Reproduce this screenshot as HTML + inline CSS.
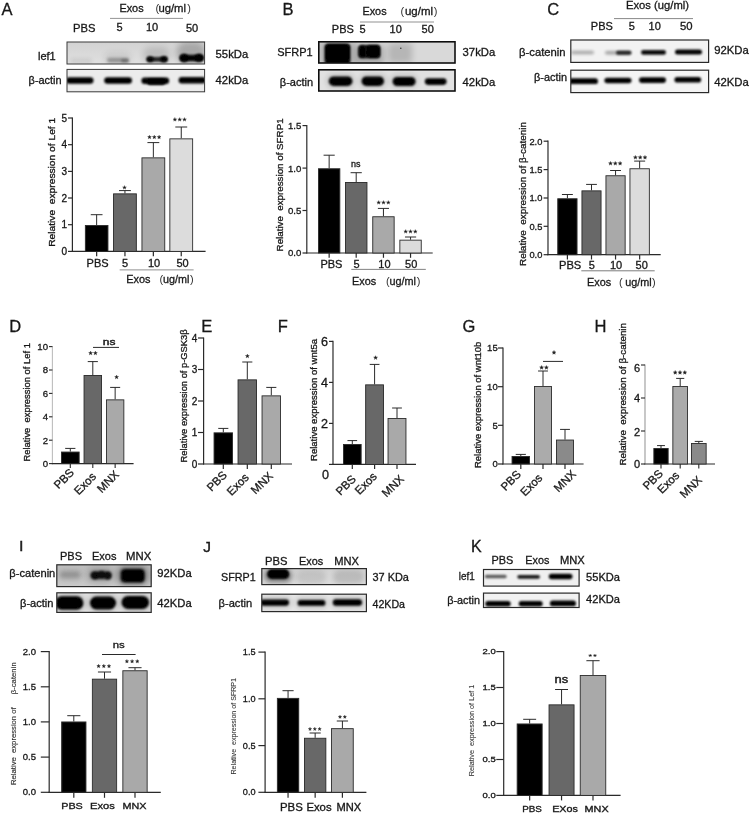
<!DOCTYPE html>
<html><head><meta charset="utf-8"><title>Figure</title>
<style>html,body{margin:0;padding:0;background:#fff;}svg{display:block;}</style>
</head><body>
<svg width="750" height="815" viewBox="0 0 750 815" font-family="'Liberation Sans', sans-serif" style="white-space:pre">
<defs>
<filter id="bl6" x="-30%" y="-80%" width="160%" height="260%"><feGaussianBlur stdDeviation="0.6"/></filter>
<filter id="bl8" x="-30%" y="-80%" width="160%" height="260%"><feGaussianBlur stdDeviation="0.8"/></filter>
<filter id="bl9" x="-30%" y="-80%" width="160%" height="260%"><feGaussianBlur stdDeviation="0.9"/></filter>
<filter id="bl10" x="-30%" y="-80%" width="160%" height="260%"><feGaussianBlur stdDeviation="1.0"/></filter>
<filter id="bl11" x="-30%" y="-80%" width="160%" height="260%"><feGaussianBlur stdDeviation="1.1"/></filter>
<filter id="bl12" x="-30%" y="-80%" width="160%" height="260%"><feGaussianBlur stdDeviation="1.2"/></filter>
<filter id="bl13" x="-30%" y="-80%" width="160%" height="260%"><feGaussianBlur stdDeviation="1.3"/></filter>
<filter id="bl14" x="-30%" y="-80%" width="160%" height="260%"><feGaussianBlur stdDeviation="1.4"/></filter>
<filter id="bl15" x="-30%" y="-80%" width="160%" height="260%"><feGaussianBlur stdDeviation="1.5"/></filter>
<filter id="bl16" x="-30%" y="-80%" width="160%" height="260%"><feGaussianBlur stdDeviation="1.6"/></filter>
<filter id="bl18" x="-30%" y="-80%" width="160%" height="260%"><feGaussianBlur stdDeviation="1.8"/></filter>
<filter id="bl20" x="-30%" y="-80%" width="160%" height="260%"><feGaussianBlur stdDeviation="2.0"/></filter>
<filter id="bl25" x="-30%" y="-80%" width="160%" height="260%"><feGaussianBlur stdDeviation="2.5"/></filter>
<filter id="bl30" x="-30%" y="-80%" width="160%" height="260%"><feGaussianBlur stdDeviation="3.0"/></filter>
<filter id="bl40" x="-30%" y="-80%" width="160%" height="260%"><feGaussianBlur stdDeviation="4.0"/></filter>
<filter id="soft" x="-5%" y="-5%" width="110%" height="110%"><feGaussianBlur stdDeviation="0.35"/></filter>
</defs>
<rect width="750" height="815" fill="#ffffff"/>
<g filter="url(#soft)">
<text x="1.6" y="14.7" font-size="16.5" fill="#161616" stroke="#161616" stroke-width="0.3">A</text>
<text x="282.4" y="14.6" font-size="16.5" fill="#161616" stroke="#161616" stroke-width="0.3">B</text>
<text x="547.3" y="15.4" font-size="16.5" fill="#161616" stroke="#161616" stroke-width="0.3">C</text>
<text x="9.2" y="332.4" font-size="16.5" fill="#161616" stroke="#161616" stroke-width="0.3">D</text>
<text x="201.2" y="331.6" font-size="16.5" fill="#161616" stroke="#161616" stroke-width="0.3">E</text>
<text x="277.8" y="331.6" font-size="16.5" fill="#161616" stroke="#161616" stroke-width="0.3">F</text>
<text x="462.6" y="331.6" font-size="16.5" fill="#161616" stroke="#161616" stroke-width="0.3">G</text>
<text x="594.6" y="331.6" font-size="16.5" fill="#161616" stroke="#161616" stroke-width="0.3">H</text>
<text x="19.2" y="551.4" font-size="14.5" fill="#161616" stroke="#161616" stroke-width="0.5">I</text>
<text x="203.2" y="552" font-size="15.5" fill="#161616" stroke="#161616" stroke-width="0.35">J</text>
<text x="471" y="551.8" font-size="16" fill="#161616" stroke="#161616" stroke-width="0.3">K</text>
<text x="119.4" y="12.4" font-size="11" textLength="24.2" lengthAdjust="spacingAndGlyphs" fill="#161616" stroke="#161616" stroke-width="0.3">Exos</text>
<text x="155.5" y="12.4" font-size="11" fill="#333" stroke="#333" stroke-width="0">(</text>
<text x="158.4" y="12.4" font-size="11" textLength="27.6" lengthAdjust="spacingAndGlyphs" fill="#161616" stroke="#161616" stroke-width="0.3">ug/ml</text>
<text x="191" y="12.4" font-size="11" text-anchor="end" fill="#333" stroke="#333" stroke-width="0">)</text>
<line x1="110" y1="18.4" x2="183" y2="18.4" stroke="#666" stroke-width="0.7"/>
<text x="73" y="32.3" font-size="11.2" fill="#161616" stroke="#161616" stroke-width="0.3">PBS</text>
<text x="116.6" y="31" font-size="11" fill="#161616" stroke="#161616" stroke-width="0.3">5</text>
<text x="146" y="31" font-size="11" fill="#161616" stroke="#161616" stroke-width="0.3">10</text>
<text x="186" y="32" font-size="11" fill="#161616" stroke="#161616" stroke-width="0.3">50</text>
<clipPath id="ca1"><rect x="67" y="42" width="137.6" height="22"/></clipPath>
<linearGradient id="ga1" x1="0" y1="0" x2="0" y2="1"><stop offset="0" stop-color="#d2d2d2"/><stop offset="1" stop-color="#e0e0e0"/></linearGradient>
<rect x="67.00" y="42.00" width="137.60" height="22.00" fill="url(#ga1)"/>
<g clip-path="url(#ca1)">
<rect x="70.0" y="59.0" width="22.0" height="4.0" rx="2.0" fill="#000" opacity="0.1" filter="url(#bl20)"/>
<rect x="104.0" y="52.0" width="27.0" height="12.0" rx="6.0" fill="#000" opacity="0.07" filter="url(#bl30)"/>
<rect x="107.0" y="58.0" width="22.0" height="4.5" rx="2.2" fill="#000" opacity="0.3" filter="url(#bl18)"/>
<rect x="121.0" y="58.8" width="8.0" height="4.0" rx="2.0" fill="#000" opacity="0.25" filter="url(#bl12)"/>
<rect x="143.0" y="47.0" width="27.0" height="16.0" rx="8.0" fill="#000" opacity="0.13" filter="url(#bl30)"/>
<rect x="147.0" y="57.0" width="20.0" height="4.8" rx="2.4" fill="#000" opacity="0.8" filter="url(#bl12)"/>
<ellipse cx="150.0" cy="59.2" rx="3.6" ry="3.0" fill="#000" opacity="0.9" filter="url(#bl10)"/>
<ellipse cx="164.0" cy="59.2" rx="3.8" ry="3.2" fill="#000" opacity="0.95" filter="url(#bl10)"/>
<rect x="176.0" y="42.0" width="30.0" height="22.0" rx="11.0" fill="#000" opacity="0.22" filter="url(#bl30)"/>
<rect x="180.0" y="54.8" width="23.5" height="6.4" rx="3.2" fill="#000" opacity="0.97" filter="url(#bl11)"/>
<ellipse cx="184.0" cy="58.0" rx="4.6" ry="4.2" fill="#000" opacity="0.95" filter="url(#bl12)"/>
<ellipse cx="199.0" cy="57.8" rx="4.8" ry="4.0" fill="#000" opacity="0.95" filter="url(#bl12)"/>
</g>
<rect x="67.00" y="42.00" width="137.60" height="22.00" fill="none" stroke="#3a3a3a" stroke-width="1.0"/>
<clipPath id="ca2"><rect x="67" y="69.4" width="137.6" height="22.4"/></clipPath>
<rect x="67.00" y="69.40" width="137.60" height="22.40" fill="#ececec"/>
<g clip-path="url(#ca2)">
<rect x="66.0" y="77.2" width="27.5" height="6.6" rx="3.3" fill="#000" opacity="1" filter="url(#bl10)"/>
<rect x="104.2" y="77.2" width="27.8" height="6.6" rx="3.3" fill="#000" opacity="1" filter="url(#bl10)"/>
<rect x="141.4" y="77.5" width="27.8" height="6.4" rx="3.2" fill="#000" opacity="1" filter="url(#bl10)"/>
<rect x="147.0" y="78.7" width="18.5" height="6.2" rx="3.1" fill="#000" opacity="1" filter="url(#bl13)"/>
<rect x="178.6" y="77.1" width="27.4" height="6.4" rx="3.2" fill="#000" opacity="1" filter="url(#bl10)"/>
</g>
<rect x="67.00" y="69.40" width="137.60" height="22.40" fill="none" stroke="#3a3a3a" stroke-width="1.0"/>
<text x="38" y="60" font-size="11" fill="#161616" stroke="#161616" stroke-width="0.3">lef1</text>
<text x="28.6" y="84" font-size="11" textLength="33" lengthAdjust="spacingAndGlyphs" fill="#161616" stroke="#161616" stroke-width="0.3">β-actin</text>
<text x="215.6" y="58" font-size="11" textLength="32.6" lengthAdjust="spacingAndGlyphs" fill="#161616" stroke="#161616" stroke-width="0.3">55kDa</text>
<text x="215.6" y="84" font-size="11" textLength="32.6" lengthAdjust="spacingAndGlyphs" fill="#161616" stroke="#161616" stroke-width="0.3">42kDa</text>
<line x1="96.65" y1="225" x2="96.65" y2="214.7" stroke="#2a2a2a" stroke-width="1.0"/>
<line x1="90.775" y1="214.7" x2="102.525" y2="214.7" stroke="#2a2a2a" stroke-width="1.0"/>
<line x1="96.65" y1="251.4" x2="96.65" y2="256.2" stroke="#2a2a2a" stroke-width="1.2"/>
<line x1="124.95" y1="193.4" x2="124.95" y2="190.6" stroke="#2a2a2a" stroke-width="1.0"/>
<line x1="119.025" y1="190.6" x2="130.875" y2="190.6" stroke="#2a2a2a" stroke-width="1.0"/>
<line x1="124.95" y1="251.4" x2="124.95" y2="256.2" stroke="#2a2a2a" stroke-width="1.2"/>
<line x1="153.35" y1="157.4" x2="153.35" y2="142.6" stroke="#2a2a2a" stroke-width="1.0"/>
<line x1="147.425" y1="142.6" x2="159.27499999999998" y2="142.6" stroke="#2a2a2a" stroke-width="1.0"/>
<line x1="153.35" y1="251.4" x2="153.35" y2="256.2" stroke="#2a2a2a" stroke-width="1.2"/>
<line x1="181.25" y1="138.4" x2="181.25" y2="127" stroke="#2a2a2a" stroke-width="1.0"/>
<line x1="175.325" y1="127" x2="187.175" y2="127" stroke="#2a2a2a" stroke-width="1.0"/>
<line x1="181.25" y1="251.4" x2="181.25" y2="256.2" stroke="#2a2a2a" stroke-width="1.2"/>
<line x1="72.4" y1="117.4" x2="72.4" y2="252.0" stroke="#2a2a2a" stroke-width="1.2"/>
<line x1="71.80000000000001" y1="251.4" x2="205.6" y2="251.4" stroke="#2a2a2a" stroke-width="1.2"/>
<rect x="85.35" y="225.45" width="22.60" height="25.95" fill="#050505" stroke="#2b2b2b" stroke-width="0.9"/>
<rect x="113.55" y="193.85" width="22.80" height="57.55" fill="#686868" stroke="#2b2b2b" stroke-width="0.9"/>
<rect x="141.95" y="157.85" width="22.80" height="93.55" fill="#a9a9a9" stroke="#2b2b2b" stroke-width="0.9"/>
<rect x="169.85" y="138.85" width="22.80" height="112.55" fill="#dcdcdc" stroke="#2b2b2b" stroke-width="0.9"/>
<line x1="68.0" y1="251.4" x2="72.4" y2="251.4" stroke="#2a2a2a" stroke-width="1.2"/>
<text x="67.0" y="254.9" font-size="10" text-anchor="end" fill="#161616" stroke="#161616" stroke-width="0.3">0</text>
<line x1="68.0" y1="224.7" x2="72.4" y2="224.7" stroke="#2a2a2a" stroke-width="1.2"/>
<text x="67.0" y="228.2" font-size="10" text-anchor="end" fill="#161616" stroke="#161616" stroke-width="0.3">1</text>
<line x1="68.0" y1="198" x2="72.4" y2="198" stroke="#2a2a2a" stroke-width="1.2"/>
<text x="67.0" y="201.5" font-size="10" text-anchor="end" fill="#161616" stroke="#161616" stroke-width="0.3">2</text>
<line x1="68.0" y1="171.4" x2="72.4" y2="171.4" stroke="#2a2a2a" stroke-width="1.2"/>
<text x="67.0" y="174.9" font-size="10" text-anchor="end" fill="#161616" stroke="#161616" stroke-width="0.3">3</text>
<line x1="68.0" y1="144.7" x2="72.4" y2="144.7" stroke="#2a2a2a" stroke-width="1.2"/>
<text x="67.0" y="148.2" font-size="10" text-anchor="end" fill="#161616" stroke="#161616" stroke-width="0.3">4</text>
<line x1="68.0" y1="118" x2="72.4" y2="118" stroke="#2a2a2a" stroke-width="1.2"/>
<text x="67.0" y="121.5" font-size="10" text-anchor="end" fill="#161616" stroke="#161616" stroke-width="0.3">5</text>
<polygon points="124.50,185.61 124.98,186.89 126.35,186.95 125.28,187.80 125.64,189.12 124.50,188.37 123.36,189.12 123.72,187.80 122.65,186.95 124.02,186.89" fill="#1e1e1e" stroke="#1e1e1e" stroke-width="0.35" stroke-linejoin="round"/>
<polygon points="149.50,135.21 149.98,136.49 151.35,136.55 150.28,137.40 150.64,138.72 149.50,137.97 148.36,138.72 148.72,137.40 147.65,136.55 149.02,136.49" fill="#1e1e1e" stroke="#1e1e1e" stroke-width="0.35" stroke-linejoin="round"/>
<polygon points="154.30,135.21 154.78,136.49 156.15,136.55 155.08,137.40 155.44,138.72 154.30,137.97 153.16,138.72 153.52,137.40 152.45,136.55 153.82,136.49" fill="#1e1e1e" stroke="#1e1e1e" stroke-width="0.35" stroke-linejoin="round"/>
<polygon points="159.10,135.21 159.58,136.49 160.95,136.55 159.88,137.40 160.24,138.72 159.10,137.97 157.96,138.72 158.32,137.40 157.25,136.55 158.62,136.49" fill="#1e1e1e" stroke="#1e1e1e" stroke-width="0.35" stroke-linejoin="round"/>
<polygon points="174.90,117.61 175.38,118.89 176.75,118.95 175.68,119.80 176.04,121.12 174.90,120.37 173.76,121.12 174.12,119.80 173.05,118.95 174.42,118.89" fill="#1e1e1e" stroke="#1e1e1e" stroke-width="0.35" stroke-linejoin="round"/>
<polygon points="179.70,117.61 180.18,118.89 181.55,118.95 180.48,119.80 180.84,121.12 179.70,120.37 178.56,121.12 178.92,119.80 177.85,118.95 179.22,118.89" fill="#1e1e1e" stroke="#1e1e1e" stroke-width="0.35" stroke-linejoin="round"/>
<polygon points="184.50,117.61 184.98,118.89 186.35,118.95 185.28,119.80 185.64,121.12 184.50,120.37 183.36,121.12 183.72,119.80 182.65,118.95 184.02,118.89" fill="#1e1e1e" stroke="#1e1e1e" stroke-width="0.35" stroke-linejoin="round"/>
<text x="55.4" y="246.8" font-size="9.4" transform="rotate(-90 55.4 246.8)" textLength="129" lengthAdjust="spacingAndGlyphs" fill="#161616" stroke="#161616" stroke-width="0.3">Relative  expression of Lef 1</text>
<text x="86.6" y="267" font-size="11" textLength="22" lengthAdjust="spacingAndGlyphs" fill="#161616" stroke="#161616" stroke-width="0.3">PBS</text>
<text x="125" y="267" font-size="11" text-anchor="middle" fill="#161616" stroke="#161616" stroke-width="0.3">5</text>
<text x="154" y="267" font-size="11" text-anchor="middle" fill="#161616" stroke="#161616" stroke-width="0.3">10</text>
<text x="182.6" y="267" font-size="11" text-anchor="middle" fill="#161616" stroke="#161616" stroke-width="0.3">50</text>
<line x1="119.7" y1="269.9" x2="193.6" y2="269.9" stroke="#444" stroke-width="0.6"/>
<text x="126.2" y="282.6" font-size="11" textLength="24.2" lengthAdjust="spacingAndGlyphs" fill="#161616" stroke="#161616" stroke-width="0.3">Exos</text>
<text x="159.5" y="282.6" font-size="11" fill="#333" stroke="#333" stroke-width="0">(</text>
<text x="162.9" y="282.6" font-size="11" textLength="26.4" lengthAdjust="spacingAndGlyphs" fill="#161616" stroke="#161616" stroke-width="0.3">ug/ml</text>
<text x="193.6" y="282.6" font-size="11" text-anchor="end" fill="#333" stroke="#333" stroke-width="0">)</text>
<text x="362.4" y="15.4" font-size="11" textLength="24.2" lengthAdjust="spacingAndGlyphs" fill="#161616" stroke="#161616" stroke-width="0.3">Exos</text>
<text x="400.5" y="15.4" font-size="11" fill="#333" stroke="#333" stroke-width="0">(</text>
<text x="405" y="15.4" font-size="11" textLength="28" lengthAdjust="spacingAndGlyphs" fill="#161616" stroke="#161616" stroke-width="0.3">ug/ml</text>
<text x="437.4" y="15.4" font-size="11" text-anchor="end" fill="#333" stroke="#333" stroke-width="0">)</text>
<line x1="360" y1="22" x2="434" y2="22" stroke="#666" stroke-width="0.7"/>
<text x="331.8" y="33" font-size="11" textLength="22" lengthAdjust="spacingAndGlyphs" fill="#161616" stroke="#161616" stroke-width="0.3">PBS</text>
<text x="359.6" y="33" font-size="11" fill="#161616" stroke="#161616" stroke-width="0.3">5</text>
<text x="389.6" y="33" font-size="11" fill="#161616" stroke="#161616" stroke-width="0.3">10</text>
<text x="421.6" y="33" font-size="11" fill="#161616" stroke="#161616" stroke-width="0.3">50</text>
<clipPath id="cb1"><rect x="318.8" y="41.8" width="136.2" height="21.2"/></clipPath>
<rect x="318.80" y="41.80" width="136.20" height="21.20" fill="#d9d9d9"/>
<g clip-path="url(#cb1)">
<rect x="319.0" y="41.0" width="37.0" height="24.0" rx="3.0" fill="#000" opacity="0.18" filter="url(#bl30)"/>
<rect x="324.6" y="43.8" width="25.8" height="20.5" rx="3.5" fill="#000" opacity="1" filter="url(#bl10)"/>
<rect x="326.0" y="44.5" width="23.0" height="15.0" rx="3.0" fill="#000" opacity="1" filter="url(#bl8)"/>
<rect x="355.0" y="45.0" width="29.0" height="20.0" rx="3.0" fill="#000" opacity="0.22" filter="url(#bl30)"/>
<rect x="358.4" y="44.9" width="21.8" height="13.4" rx="3.5" fill="#000" opacity="0.92" filter="url(#bl11)"/>
<rect x="367.0" y="45.2" width="13.0" height="12.4" rx="3.0" fill="#000" opacity="0.95" filter="url(#bl8)"/>
<rect x="358.6" y="45.6" width="6.9" height="12.0" rx="3.0" fill="#000" opacity="0.7" filter="url(#bl8)"/>
<rect x="388.0" y="43.0" width="24.0" height="20.0" rx="3.0" fill="#000" opacity="0.16" filter="url(#bl30)"/>
<rect x="400.0" y="47.4" width="1.6" height="1.6" rx="0.8" fill="#000" opacity="0.7" filter="url(#bl6)"/>
</g>
<rect x="318.80" y="41.80" width="136.20" height="21.20" fill="none" stroke="#111" stroke-width="1.6"/>
<clipPath id="cb2"><rect x="318.8" y="69.8" width="136.2" height="21.2"/></clipPath>
<rect x="318.80" y="69.80" width="136.20" height="21.20" fill="#e1e1e1"/>
<g clip-path="url(#cb2)">
<rect x="326.0" y="73.5" width="29.0" height="15.0" rx="7.5" fill="#000" opacity="0.12" filter="url(#bl25)"/>
<rect x="359.0" y="73.5" width="28.0" height="15.0" rx="7.5" fill="#000" opacity="0.12" filter="url(#bl25)"/>
<rect x="390.0" y="73.5" width="28.0" height="15.0" rx="7.5" fill="#000" opacity="0.1" filter="url(#bl25)"/>
<rect x="328.8" y="76.4" width="23.6" height="9.6" rx="4.8" fill="#000" opacity="1" filter="url(#bl12)"/>
<rect x="361.6" y="76.4" width="22.4" height="9.6" rx="4.8" fill="#000" opacity="1" filter="url(#bl12)"/>
<rect x="392.6" y="76.9" width="23.0" height="9.2" rx="4.6" fill="#000" opacity="1" filter="url(#bl12)"/>
<rect x="424.8" y="78.3" width="21.8" height="6.6" rx="3.3" fill="#000" opacity="1" filter="url(#bl12)"/>
</g>
<rect x="318.80" y="69.80" width="136.20" height="21.20" fill="none" stroke="#111" stroke-width="1.6"/>
<text x="277.2" y="56" font-size="11" textLength="35.4" lengthAdjust="spacingAndGlyphs" fill="#161616" stroke="#161616" stroke-width="0.3">SFRP1</text>
<text x="279.8" y="86.4" font-size="11" textLength="33.4" lengthAdjust="spacingAndGlyphs" fill="#161616" stroke="#161616" stroke-width="0.3">β-actin</text>
<text x="462.6" y="56" font-size="11" textLength="32.6" lengthAdjust="spacingAndGlyphs" fill="#161616" stroke="#161616" stroke-width="0.3">37kDa</text>
<text x="462.6" y="86.4" font-size="11" textLength="32.6" lengthAdjust="spacingAndGlyphs" fill="#161616" stroke="#161616" stroke-width="0.3">42kDa</text>
<line x1="329.15" y1="168.3" x2="329.15" y2="155.2" stroke="#2a2a2a" stroke-width="1.0"/>
<line x1="323.575" y1="155.2" x2="334.72499999999997" y2="155.2" stroke="#2a2a2a" stroke-width="1.0"/>
<line x1="329.15" y1="253" x2="329.15" y2="257.8" stroke="#2a2a2a" stroke-width="1.2"/>
<line x1="356.2" y1="182" x2="356.2" y2="172.7" stroke="#2a2a2a" stroke-width="1.0"/>
<line x1="350.6" y1="172.7" x2="361.79999999999995" y2="172.7" stroke="#2a2a2a" stroke-width="1.0"/>
<line x1="356.2" y1="253" x2="356.2" y2="257.8" stroke="#2a2a2a" stroke-width="1.2"/>
<line x1="383.45000000000005" y1="216.3" x2="383.45000000000005" y2="208.4" stroke="#2a2a2a" stroke-width="1.0"/>
<line x1="377.87500000000006" y1="208.4" x2="389.02500000000003" y2="208.4" stroke="#2a2a2a" stroke-width="1.0"/>
<line x1="383.45000000000005" y1="253" x2="383.45000000000005" y2="257.8" stroke="#2a2a2a" stroke-width="1.2"/>
<line x1="410.54999999999995" y1="239.7" x2="410.54999999999995" y2="237" stroke="#2a2a2a" stroke-width="1.0"/>
<line x1="404.97499999999997" y1="237" x2="416.12499999999994" y2="237" stroke="#2a2a2a" stroke-width="1.0"/>
<line x1="410.54999999999995" y1="253" x2="410.54999999999995" y2="257.8" stroke="#2a2a2a" stroke-width="1.2"/>
<line x1="306.8" y1="125.0" x2="306.8" y2="253.6" stroke="#2a2a2a" stroke-width="1.2"/>
<line x1="306.2" y1="253" x2="432.7" y2="253" stroke="#2a2a2a" stroke-width="1.2"/>
<rect x="318.45" y="168.75" width="21.40" height="84.25" fill="#050505" stroke="#2b2b2b" stroke-width="0.9"/>
<rect x="345.45" y="182.45" width="21.50" height="70.55" fill="#686868" stroke="#2b2b2b" stroke-width="0.9"/>
<rect x="372.75" y="216.75" width="21.40" height="36.25" fill="#a9a9a9" stroke="#2b2b2b" stroke-width="0.9"/>
<rect x="399.85" y="240.15" width="21.40" height="12.85" fill="#dcdcdc" stroke="#2b2b2b" stroke-width="0.9"/>
<line x1="302.5" y1="253" x2="306.8" y2="253" stroke="#2a2a2a" stroke-width="1.2"/>
<text x="301.3" y="256.4" font-size="9.6" text-anchor="end" fill="#161616" stroke="#161616" stroke-width="0.3">0.0</text>
<line x1="302.5" y1="210.5" x2="306.8" y2="210.5" stroke="#2a2a2a" stroke-width="1.2"/>
<text x="301.3" y="213.9" font-size="9.6" text-anchor="end" fill="#161616" stroke="#161616" stroke-width="0.3">0.5</text>
<line x1="302.5" y1="168.1" x2="306.8" y2="168.1" stroke="#2a2a2a" stroke-width="1.2"/>
<text x="301.3" y="171.5" font-size="9.6" text-anchor="end" fill="#161616" stroke="#161616" stroke-width="0.3">1.0</text>
<line x1="302.5" y1="125.6" x2="306.8" y2="125.6" stroke="#2a2a2a" stroke-width="1.2"/>
<text x="301.3" y="129.0" font-size="9.6" text-anchor="end" fill="#161616" stroke="#161616" stroke-width="0.3">1.5</text>
<text x="355.8" y="166.5" font-size="9" text-anchor="middle" fill="#161616" stroke="#161616" stroke-width="0.3">ns</text>
<polygon points="378.70,200.61 379.18,201.89 380.55,201.95 379.48,202.80 379.84,204.12 378.70,203.37 377.56,204.12 377.92,202.80 376.85,201.95 378.22,201.89" fill="#1e1e1e" stroke="#1e1e1e" stroke-width="0.35" stroke-linejoin="round"/>
<polygon points="383.50,200.61 383.98,201.89 385.35,201.95 384.28,202.80 384.64,204.12 383.50,203.37 382.36,204.12 382.72,202.80 381.65,201.95 383.02,201.89" fill="#1e1e1e" stroke="#1e1e1e" stroke-width="0.35" stroke-linejoin="round"/>
<polygon points="388.30,200.61 388.78,201.89 390.15,201.95 389.08,202.80 389.44,204.12 388.30,203.37 387.16,204.12 387.52,202.80 386.45,201.95 387.82,201.89" fill="#1e1e1e" stroke="#1e1e1e" stroke-width="0.35" stroke-linejoin="round"/>
<polygon points="405.70,229.61 406.18,230.89 407.55,230.95 406.48,231.80 406.84,233.12 405.70,232.37 404.56,233.12 404.92,231.80 403.85,230.95 405.22,230.89" fill="#1e1e1e" stroke="#1e1e1e" stroke-width="0.35" stroke-linejoin="round"/>
<polygon points="410.50,229.61 410.98,230.89 412.35,230.95 411.28,231.80 411.64,233.12 410.50,232.37 409.36,233.12 409.72,231.80 408.65,230.95 410.02,230.89" fill="#1e1e1e" stroke="#1e1e1e" stroke-width="0.35" stroke-linejoin="round"/>
<polygon points="415.30,229.61 415.78,230.89 417.15,230.95 416.08,231.80 416.44,233.12 415.30,232.37 414.16,233.12 414.52,231.80 413.45,230.95 414.82,230.89" fill="#1e1e1e" stroke="#1e1e1e" stroke-width="0.35" stroke-linejoin="round"/>
<text x="283.4" y="251.4" font-size="9.5" transform="rotate(-90 283.4 251.4)" textLength="133" lengthAdjust="spacingAndGlyphs" fill="#161616" stroke="#161616" stroke-width="0.3">Relative  expression of SFRP1</text>
<text x="320.4" y="267.9" font-size="11" textLength="22" lengthAdjust="spacingAndGlyphs" fill="#161616" stroke="#161616" stroke-width="0.3">PBS</text>
<text x="356.6" y="267.9" font-size="11" text-anchor="middle" fill="#161616" stroke="#161616" stroke-width="0.3">5</text>
<text x="384.4" y="267.9" font-size="11" text-anchor="middle" fill="#161616" stroke="#161616" stroke-width="0.3">10</text>
<text x="411.2" y="267.9" font-size="11" text-anchor="middle" fill="#161616" stroke="#161616" stroke-width="0.3">50</text>
<line x1="351.3" y1="269.4" x2="425.8" y2="269.4" stroke="#333" stroke-width="0.6"/>
<text x="352" y="285" font-size="11" textLength="24.2" lengthAdjust="spacingAndGlyphs" fill="#161616" stroke="#161616" stroke-width="0.3">Exos</text>
<text x="386" y="285" font-size="11" fill="#333" stroke="#333" stroke-width="0">(</text>
<text x="389.5" y="285" font-size="11" textLength="26.5" lengthAdjust="spacingAndGlyphs" fill="#161616" stroke="#161616" stroke-width="0.3">ug/ml</text>
<text x="420.5" y="285" font-size="11" text-anchor="end" fill="#333" stroke="#333" stroke-width="0">)</text>
<text x="626" y="9.4" font-size="11.2" textLength="63" lengthAdjust="spacingAndGlyphs" fill="#161616" stroke="#161616" stroke-width="0.3">Exos (ug/ml)</text>
<line x1="614" y1="18.6" x2="693" y2="18.6" stroke="#555" stroke-width="0.7"/>
<text x="590.8" y="29.6" font-size="11" textLength="22" lengthAdjust="spacingAndGlyphs" fill="#161616" stroke="#161616" stroke-width="0.3">PBS</text>
<text x="628.8" y="29.5" font-size="11" fill="#161616" stroke="#161616" stroke-width="0.3">5</text>
<text x="648.6" y="29.5" font-size="11" fill="#161616" stroke="#161616" stroke-width="0.3">10</text>
<text x="680" y="29.5" font-size="11" textLength="12.6" lengthAdjust="spacingAndGlyphs" fill="#161616" stroke="#161616" stroke-width="0.3">50</text>
<clipPath id="cc1"><rect x="570.8" y="40" width="137.8" height="22.4"/></clipPath>
<rect x="570.80" y="40.00" width="137.80" height="22.40" fill="#f2f2f2"/>
<g clip-path="url(#cc1)">
<rect x="571.0" y="50.7" width="23.0" height="3.6" rx="1.8" fill="#000" opacity="0.3" filter="url(#bl16)"/>
<rect x="605.0" y="50.9" width="26.0" height="3.6" rx="1.8" fill="#000" opacity="0.33" filter="url(#bl16)"/>
<rect x="616.0" y="50.8" width="15.5" height="4.0" rx="2.0" fill="#000" opacity="0.8" filter="url(#bl12)"/>
<rect x="641.0" y="50.1" width="25.0" height="4.6" rx="2.3" fill="#000" opacity="0.95" filter="url(#bl10)"/>
<rect x="675.0" y="49.6" width="27.0" height="5.0" rx="2.5" fill="#000" opacity="1" filter="url(#bl10)"/>
</g>
<rect x="570.80" y="40.00" width="137.80" height="22.40" fill="none" stroke="#2a2a2a" stroke-width="1.2"/>
<clipPath id="cc2"><rect x="570.8" y="70.2" width="137.8" height="22.4"/></clipPath>
<rect x="570.80" y="70.20" width="137.80" height="22.40" fill="#f4f4f4"/>
<g clip-path="url(#cc2)">
<rect x="568.0" y="78.3" width="30.0" height="5.8" rx="2.9" fill="#000" opacity="1" filter="url(#bl10)"/>
<rect x="604.4" y="77.7" width="27.1" height="5.6" rx="2.8" fill="#000" opacity="1" filter="url(#bl10)"/>
<rect x="639.0" y="77.3" width="27.0" height="5.6" rx="2.8" fill="#000" opacity="1" filter="url(#bl10)"/>
<rect x="674.4" y="76.9" width="26.8" height="5.6" rx="2.8" fill="#000" opacity="1" filter="url(#bl10)"/>
</g>
<rect x="570.80" y="70.20" width="137.80" height="22.40" fill="none" stroke="#2a2a2a" stroke-width="1.2"/>
<text x="519" y="56" font-size="11" textLength="46.6" lengthAdjust="spacingAndGlyphs" fill="#161616" stroke="#161616" stroke-width="0.3">β-catenin</text>
<text x="534" y="81" font-size="11" textLength="33" lengthAdjust="spacingAndGlyphs" fill="#161616" stroke="#161616" stroke-width="0.3">β-actin</text>
<text x="714.2" y="53.6" font-size="11.3" textLength="34.6" lengthAdjust="spacingAndGlyphs" fill="#161616" stroke="#161616" stroke-width="0.3">92KDa</text>
<text x="714.2" y="86" font-size="11.3" textLength="34.6" lengthAdjust="spacingAndGlyphs" fill="#161616" stroke="#161616" stroke-width="0.3">42KDa</text>
<line x1="567.4" y1="198.3" x2="567.4" y2="194.5" stroke="#2a2a2a" stroke-width="1.0"/>
<line x1="561.9459999999999" y1="194.5" x2="572.854" y2="194.5" stroke="#2a2a2a" stroke-width="1.0"/>
<line x1="567.4" y1="254.7" x2="567.4" y2="259.5" stroke="#2a2a2a" stroke-width="1.2"/>
<line x1="591.5" y1="190.4" x2="591.5" y2="184.4" stroke="#2a2a2a" stroke-width="1.0"/>
<line x1="586.1" y1="184.4" x2="596.9" y2="184.4" stroke="#2a2a2a" stroke-width="1.0"/>
<line x1="591.5" y1="254.7" x2="591.5" y2="259.5" stroke="#2a2a2a" stroke-width="1.2"/>
<line x1="615.55" y1="175.3" x2="615.55" y2="170.5" stroke="#2a2a2a" stroke-width="1.0"/>
<line x1="610.1229999999999" y1="170.5" x2="620.977" y2="170.5" stroke="#2a2a2a" stroke-width="1.0"/>
<line x1="615.55" y1="254.7" x2="615.55" y2="259.5" stroke="#2a2a2a" stroke-width="1.2"/>
<line x1="639.65" y1="168.3" x2="639.65" y2="161.1" stroke="#2a2a2a" stroke-width="1.0"/>
<line x1="634.169" y1="161.1" x2="645.131" y2="161.1" stroke="#2a2a2a" stroke-width="1.0"/>
<line x1="639.65" y1="254.7" x2="639.65" y2="259.5" stroke="#2a2a2a" stroke-width="1.2"/>
<line x1="548" y1="140.6" x2="548" y2="255.29999999999998" stroke="#2a2a2a" stroke-width="1.2"/>
<line x1="547.4" y1="254.7" x2="660.7" y2="254.7" stroke="#2a2a2a" stroke-width="1.2"/>
<rect x="557.75" y="198.75" width="19.30" height="55.95" fill="#050505" stroke="#2b2b2b" stroke-width="0.9"/>
<rect x="581.95" y="190.85" width="19.10" height="63.85" fill="#686868" stroke="#2b2b2b" stroke-width="0.9"/>
<rect x="605.95" y="175.75" width="19.20" height="78.95" fill="#a9a9a9" stroke="#2b2b2b" stroke-width="0.9"/>
<rect x="629.95" y="168.75" width="19.40" height="85.95" fill="#dcdcdc" stroke="#2b2b2b" stroke-width="0.9"/>
<line x1="543.6" y1="254.7" x2="548" y2="254.7" stroke="#2a2a2a" stroke-width="1.2"/>
<text x="542.4" y="258.0" font-size="9.3" text-anchor="end" fill="#161616" stroke="#161616" stroke-width="0.3">0.0</text>
<line x1="543.6" y1="226.3" x2="548" y2="226.3" stroke="#2a2a2a" stroke-width="1.2"/>
<text x="542.4" y="229.6" font-size="9.3" text-anchor="end" fill="#161616" stroke="#161616" stroke-width="0.3">0.5</text>
<line x1="543.6" y1="198" x2="548" y2="198" stroke="#2a2a2a" stroke-width="1.2"/>
<text x="542.4" y="201.3" font-size="9.3" text-anchor="end" fill="#161616" stroke="#161616" stroke-width="0.3">1.0</text>
<line x1="543.6" y1="169.6" x2="548" y2="169.6" stroke="#2a2a2a" stroke-width="1.2"/>
<text x="542.4" y="172.9" font-size="9.3" text-anchor="end" fill="#161616" stroke="#161616" stroke-width="0.3">1.5</text>
<line x1="543.6" y1="141.2" x2="548" y2="141.2" stroke="#2a2a2a" stroke-width="1.2"/>
<text x="542.4" y="144.5" font-size="9.3" text-anchor="end" fill="#161616" stroke="#161616" stroke-width="0.3">2.0</text>
<polygon points="610.50,161.42 611.00,162.76 612.44,162.82 611.31,163.71 611.70,165.10 610.50,164.30 609.30,165.10 609.69,163.71 608.56,162.82 610.00,162.76" fill="#1e1e1e" stroke="#1e1e1e" stroke-width="0.35" stroke-linejoin="round"/>
<polygon points="615.30,161.42 615.80,162.76 617.24,162.82 616.11,163.71 616.50,165.10 615.30,164.30 614.10,165.10 614.49,163.71 613.36,162.82 614.80,162.76" fill="#1e1e1e" stroke="#1e1e1e" stroke-width="0.35" stroke-linejoin="round"/>
<polygon points="620.10,161.42 620.60,162.76 622.04,162.82 620.91,163.71 621.30,165.10 620.10,164.30 618.90,165.10 619.29,163.71 618.16,162.82 619.60,162.76" fill="#1e1e1e" stroke="#1e1e1e" stroke-width="0.35" stroke-linejoin="round"/>
<polygon points="635.40,155.42 635.90,156.76 637.34,156.82 636.21,157.71 636.60,159.10 635.40,158.30 634.20,159.10 634.59,157.71 633.46,156.82 634.90,156.76" fill="#1e1e1e" stroke="#1e1e1e" stroke-width="0.35" stroke-linejoin="round"/>
<polygon points="640.20,155.42 640.70,156.76 642.14,156.82 641.01,157.71 641.40,159.10 640.20,158.30 639.00,159.10 639.39,157.71 638.26,156.82 639.70,156.76" fill="#1e1e1e" stroke="#1e1e1e" stroke-width="0.35" stroke-linejoin="round"/>
<polygon points="645.00,155.42 645.50,156.76 646.94,156.82 645.81,157.71 646.20,159.10 645.00,158.30 643.80,159.10 644.19,157.71 643.06,156.82 644.50,156.76" fill="#1e1e1e" stroke="#1e1e1e" stroke-width="0.35" stroke-linejoin="round"/>
<text x="525.6" y="266" font-size="9.3" transform="rotate(-90 525.6 266)" textLength="144" lengthAdjust="spacingAndGlyphs" fill="#161616" stroke="#161616" stroke-width="0.3">Relative  expression of β-catenin</text>
<text x="559" y="269.1" font-size="11" textLength="22.3" lengthAdjust="spacingAndGlyphs" fill="#161616" stroke="#161616" stroke-width="0.3">PBS</text>
<text x="591.8" y="269.1" font-size="11" text-anchor="middle" fill="#161616" stroke="#161616" stroke-width="0.3">5</text>
<text x="616" y="269.1" font-size="11" text-anchor="middle" fill="#161616" stroke="#161616" stroke-width="0.3">10</text>
<text x="641.7" y="269.1" font-size="11" text-anchor="middle" fill="#161616" stroke="#161616" stroke-width="0.3">50</text>
<line x1="581.3" y1="270.8" x2="654.7" y2="270.8" stroke="#444" stroke-width="0.7"/>
<text x="587.1" y="285.9" font-size="11" textLength="24.2" lengthAdjust="spacingAndGlyphs" fill="#161616" stroke="#161616" stroke-width="0.3">Exos</text>
<text x="619" y="285.9" font-size="11" fill="#333" stroke="#333" stroke-width="0">(</text>
<text x="625.2" y="285.9" font-size="11" textLength="26.4" lengthAdjust="spacingAndGlyphs" fill="#161616" stroke="#161616" stroke-width="0.3">ug/ml</text>
<text x="655.7" y="285.9" font-size="11" text-anchor="end" fill="#333" stroke="#333" stroke-width="0">)</text>
<line x1="70.3" y1="451.6" x2="70.3" y2="448.4" stroke="#2a2a2a" stroke-width="1.0"/>
<line x1="65.185" y1="448.4" x2="75.41499999999999" y2="448.4" stroke="#2a2a2a" stroke-width="1.0"/>
<line x1="70.3" y1="463.6" x2="70.3" y2="468.0" stroke="#2a2a2a" stroke-width="1.1"/>
<line x1="92.8" y1="375" x2="92.8" y2="361.6" stroke="#2a2a2a" stroke-width="1.0"/>
<line x1="87.74" y1="361.6" x2="97.86" y2="361.6" stroke="#2a2a2a" stroke-width="1.0"/>
<line x1="92.8" y1="463.6" x2="92.8" y2="468.0" stroke="#2a2a2a" stroke-width="1.1"/>
<line x1="115.15" y1="399.4" x2="115.15" y2="387.4" stroke="#2a2a2a" stroke-width="1.0"/>
<line x1="110.1175" y1="387.4" x2="120.1825" y2="387.4" stroke="#2a2a2a" stroke-width="1.0"/>
<line x1="115.15" y1="463.6" x2="115.15" y2="468.0" stroke="#2a2a2a" stroke-width="1.1"/>
<line x1="52.4" y1="346.05" x2="52.4" y2="464.15000000000003" stroke="#bdbdbd" stroke-width="1.1"/>
<line x1="51.85" y1="463.6" x2="133.6" y2="463.6" stroke="#2a2a2a" stroke-width="1.1"/>
<rect x="61.45" y="452.05" width="17.70" height="11.55" fill="#050505" stroke="#2b2b2b" stroke-width="0.9"/>
<rect x="84.05" y="375.45" width="17.50" height="88.15" fill="#686868" stroke="#2b2b2b" stroke-width="0.9"/>
<rect x="106.45" y="399.85" width="17.40" height="63.75" fill="#a9a9a9" stroke="#2b2b2b" stroke-width="0.9"/>
<line x1="49.0" y1="463.6" x2="52.4" y2="463.6" stroke="#2a2a2a" stroke-width="1.1"/>
<text x="48.0" y="467.0" font-size="9.6" text-anchor="end" fill="#161616" stroke="#161616" stroke-width="0.3">0</text>
<line x1="49.0" y1="440.2" x2="52.4" y2="440.2" stroke="#2a2a2a" stroke-width="1.1"/>
<text x="48.0" y="443.6" font-size="9.6" text-anchor="end" fill="#161616" stroke="#161616" stroke-width="0.3">2</text>
<line x1="49.0" y1="416.8" x2="52.4" y2="416.8" stroke="#2a2a2a" stroke-width="1.1"/>
<text x="48.0" y="420.2" font-size="9.6" text-anchor="end" fill="#161616" stroke="#161616" stroke-width="0.3">4</text>
<line x1="49.0" y1="393.4" x2="52.4" y2="393.4" stroke="#2a2a2a" stroke-width="1.1"/>
<text x="48.0" y="396.8" font-size="9.6" text-anchor="end" fill="#161616" stroke="#161616" stroke-width="0.3">6</text>
<line x1="49.0" y1="370" x2="52.4" y2="370" stroke="#2a2a2a" stroke-width="1.1"/>
<text x="48.0" y="373.4" font-size="9.6" text-anchor="end" fill="#161616" stroke="#161616" stroke-width="0.3">8</text>
<line x1="49.0" y1="346.6" x2="52.4" y2="346.6" stroke="#2a2a2a" stroke-width="1.1"/>
<text x="48.0" y="350.0" font-size="9.6" text-anchor="end" fill="#161616" stroke="#161616" stroke-width="0.3">10</text>
<polygon points="90.60,351.11 91.10,352.46 92.54,352.52 91.41,353.41 91.80,354.80 90.60,354.00 89.40,354.80 89.79,353.41 88.66,352.52 90.10,352.46" fill="#1e1e1e" stroke="#1e1e1e" stroke-width="0.35" stroke-linejoin="round"/>
<polygon points="95.40,351.11 95.90,352.46 97.34,352.52 96.21,353.41 96.60,354.80 95.40,354.00 94.20,354.80 94.59,353.41 93.46,352.52 94.90,352.46" fill="#1e1e1e" stroke="#1e1e1e" stroke-width="0.35" stroke-linejoin="round"/>
<polygon points="116.60,375.11 117.10,376.46 118.54,376.52 117.41,377.41 117.80,378.80 116.60,378.00 115.40,378.80 115.79,377.41 114.66,376.52 116.10,376.46" fill="#1e1e1e" stroke="#1e1e1e" stroke-width="0.35" stroke-linejoin="round"/>
<text x="109.1" y="345" font-size="9.6" text-anchor="middle" textLength="12.6" lengthAdjust="spacingAndGlyphs" fill="#161616" stroke="#161616" stroke-width="0.4">ns</text>
<line x1="93" y1="347.4" x2="119" y2="347.4" stroke="#2a2a2a" stroke-width="1.0"/>
<text x="30.4" y="461.6" font-size="8.8" transform="rotate(-90 30.4 461.6)" textLength="118.6" lengthAdjust="spacingAndGlyphs" fill="#161616" stroke="#161616" stroke-width="0.3">Relative  expression of Lef 1</text>
<text x="74.8" y="473.3" font-size="11.5" text-anchor="end" transform="rotate(-45 74.8 473.3)" fill="#161616" stroke="#161616" stroke-width="0.3">PBS</text>
<text x="96.8" y="477.3" font-size="11.5" text-anchor="end" transform="rotate(-45 96.8 477.3)" fill="#161616" stroke="#161616" stroke-width="0.3">Exos</text>
<text x="119.8" y="475.3" font-size="11.5" text-anchor="end" transform="rotate(-45 119.8 475.3)" fill="#161616" stroke="#161616" stroke-width="0.3">MNX</text>
<line x1="223.3" y1="432.4" x2="223.3" y2="428.4" stroke="#2a2a2a" stroke-width="1.0"/>
<line x1="218.256" y1="428.4" x2="228.34400000000002" y2="428.4" stroke="#2a2a2a" stroke-width="1.0"/>
<line x1="223.3" y1="464" x2="223.3" y2="469" stroke="#2a2a2a" stroke-width="1.2"/>
<line x1="247.3" y1="379.4" x2="247.3" y2="362" stroke="#2a2a2a" stroke-width="1.0"/>
<line x1="242.256" y1="362" x2="252.34400000000002" y2="362" stroke="#2a2a2a" stroke-width="1.0"/>
<line x1="247.3" y1="464" x2="247.3" y2="469" stroke="#2a2a2a" stroke-width="1.2"/>
<line x1="271.3" y1="395.4" x2="271.3" y2="387.4" stroke="#2a2a2a" stroke-width="1.0"/>
<line x1="266.25600000000003" y1="387.4" x2="276.344" y2="387.4" stroke="#2a2a2a" stroke-width="1.0"/>
<line x1="271.3" y1="464" x2="271.3" y2="469" stroke="#2a2a2a" stroke-width="1.2"/>
<line x1="203.6" y1="337.4" x2="203.6" y2="464.6" stroke="#2a2a2a" stroke-width="1.2"/>
<line x1="203.0" y1="464" x2="292" y2="464" stroke="#2a2a2a" stroke-width="1.2"/>
<rect x="214.05" y="432.85" width="18.50" height="31.15" fill="#050505" stroke="#2b2b2b" stroke-width="0.9"/>
<rect x="238.05" y="379.85" width="18.50" height="84.15" fill="#686868" stroke="#2b2b2b" stroke-width="0.9"/>
<rect x="262.05" y="395.85" width="18.50" height="68.15" fill="#a9a9a9" stroke="#2b2b2b" stroke-width="0.9"/>
<line x1="198.0" y1="464" x2="203.6" y2="464" stroke="#2a2a2a" stroke-width="1.2"/>
<text x="197.2" y="467.6" font-size="10" text-anchor="end" fill="#161616" stroke="#161616" stroke-width="0.3">0</text>
<line x1="198.0" y1="432.5" x2="203.6" y2="432.5" stroke="#2a2a2a" stroke-width="1.2"/>
<text x="197.2" y="436.1" font-size="10" text-anchor="end" fill="#161616" stroke="#161616" stroke-width="0.3">1</text>
<line x1="198.0" y1="401" x2="203.6" y2="401" stroke="#2a2a2a" stroke-width="1.2"/>
<text x="197.2" y="404.6" font-size="10" text-anchor="end" fill="#161616" stroke="#161616" stroke-width="0.3">2</text>
<line x1="198.0" y1="369.5" x2="203.6" y2="369.5" stroke="#2a2a2a" stroke-width="1.2"/>
<text x="197.2" y="373.1" font-size="10" text-anchor="end" fill="#161616" stroke="#161616" stroke-width="0.3">3</text>
<line x1="198.0" y1="338" x2="203.6" y2="338" stroke="#2a2a2a" stroke-width="1.2"/>
<text x="197.2" y="341.6" font-size="10" text-anchor="end" fill="#161616" stroke="#161616" stroke-width="0.3">4</text>
<polygon points="247.40,354.11 247.90,355.46 249.34,355.52 248.21,356.41 248.60,357.80 247.40,357.00 246.20,357.80 246.59,356.41 245.46,355.52 246.90,355.46" fill="#1e1e1e" stroke="#1e1e1e" stroke-width="0.35" stroke-linejoin="round"/>
<text x="186.6" y="462.4" font-size="9" transform="rotate(-90 186.6 462.4)" textLength="133" lengthAdjust="spacingAndGlyphs" fill="#161616" stroke="#161616" stroke-width="0.3">Relative expression of p-GSK3β</text>
<text x="227.7" y="475.7" font-size="11.5" text-anchor="end" transform="rotate(-45 227.7 475.7)" fill="#161616" stroke="#161616" stroke-width="0.3">PBS</text>
<text x="249.7" y="478.1" font-size="11.5" text-anchor="end" transform="rotate(-45 249.7 478.1)" fill="#161616" stroke="#161616" stroke-width="0.3">Exos</text>
<text x="273.7" y="476.7" font-size="11.5" text-anchor="end" transform="rotate(-45 273.7 476.7)" fill="#161616" stroke="#161616" stroke-width="0.3">MNX</text>
<line x1="352.3" y1="444" x2="352.3" y2="440.6" stroke="#2a2a2a" stroke-width="1.0"/>
<line x1="347.464" y1="440.6" x2="357.136" y2="440.6" stroke="#2a2a2a" stroke-width="1.0"/>
<line x1="352.3" y1="464.4" x2="352.3" y2="469.0" stroke="#2a2a2a" stroke-width="1.2"/>
<line x1="374.6" y1="384.4" x2="374.6" y2="364.4" stroke="#2a2a2a" stroke-width="1.0"/>
<line x1="369.71200000000005" y1="364.4" x2="379.488" y2="364.4" stroke="#2a2a2a" stroke-width="1.0"/>
<line x1="374.6" y1="464.4" x2="374.6" y2="469.0" stroke="#2a2a2a" stroke-width="1.2"/>
<line x1="397.0" y1="418" x2="397.0" y2="408" stroke="#2a2a2a" stroke-width="1.0"/>
<line x1="392.112" y1="408" x2="401.888" y2="408" stroke="#2a2a2a" stroke-width="1.0"/>
<line x1="397.0" y1="464.4" x2="397.0" y2="469.0" stroke="#2a2a2a" stroke-width="1.2"/>
<line x1="333" y1="340.79999999999995" x2="333" y2="465.0" stroke="#2a2a2a" stroke-width="1.2"/>
<line x1="332.4" y1="464.4" x2="416" y2="464.4" stroke="#2a2a2a" stroke-width="1.2"/>
<rect x="343.45" y="444.45" width="17.70" height="19.95" fill="#050505" stroke="#2b2b2b" stroke-width="0.9"/>
<rect x="365.65" y="384.85" width="17.90" height="79.55" fill="#686868" stroke="#2b2b2b" stroke-width="0.9"/>
<rect x="388.05" y="418.45" width="17.90" height="45.95" fill="#a9a9a9" stroke="#2b2b2b" stroke-width="0.9"/>
<line x1="329" y1="464.4" x2="333" y2="464.4" stroke="#2a2a2a" stroke-width="1.2"/>
<line x1="329" y1="423.4" x2="333" y2="423.4" stroke="#2a2a2a" stroke-width="1.2"/>
<text x="328.1" y="427.8" font-size="12.6" text-anchor="end" fill="#161616" stroke="#161616" stroke-width="0.3">2</text>
<line x1="329" y1="382.4" x2="333" y2="382.4" stroke="#2a2a2a" stroke-width="1.2"/>
<text x="328.1" y="386.8" font-size="12.6" text-anchor="end" fill="#161616" stroke="#161616" stroke-width="0.3">4</text>
<line x1="329" y1="341.4" x2="333" y2="341.4" stroke="#2a2a2a" stroke-width="1.2"/>
<text x="328.1" y="345.8" font-size="12.6" text-anchor="end" fill="#161616" stroke="#161616" stroke-width="0.3">6</text>
<text x="322" y="478.6" font-size="12.6" fill="#161616" stroke="#161616" stroke-width="0.3">0</text>
<polygon points="375.60,355.71 376.10,357.06 377.54,357.12 376.41,358.01 376.80,359.40 375.60,358.60 374.40,359.40 374.79,358.01 373.66,357.12 375.10,357.06" fill="#1e1e1e" stroke="#1e1e1e" stroke-width="0.35" stroke-linejoin="round"/>
<text x="317" y="461" font-size="9.2" transform="rotate(-90 317 461)" textLength="122" lengthAdjust="spacingAndGlyphs" fill="#161616" stroke="#161616" stroke-width="0.3">Relative expression of wnt5a</text>
<text x="356.7" y="479.7" font-size="11.5" text-anchor="end" transform="rotate(-45 356.7 479.7)" fill="#161616" stroke="#161616" stroke-width="0.3">PBS</text>
<text x="377.7" y="477.1" font-size="11.5" text-anchor="end" transform="rotate(-45 377.7 477.1)" fill="#161616" stroke="#161616" stroke-width="0.3">Exos</text>
<text x="404.7" y="479.7" font-size="11.5" text-anchor="end" transform="rotate(-45 404.7 479.7)" fill="#161616" stroke="#161616" stroke-width="0.3">MNX</text>
<line x1="520.8" y1="456" x2="520.8" y2="454.4" stroke="#2a2a2a" stroke-width="1.0"/>
<line x1="515.74" y1="454.4" x2="525.8599999999999" y2="454.4" stroke="#2a2a2a" stroke-width="1.0"/>
<line x1="520.8" y1="464" x2="520.8" y2="469" stroke="#2a2a2a" stroke-width="1.2"/>
<line x1="543.0" y1="386" x2="543.0" y2="371" stroke="#2a2a2a" stroke-width="1.0"/>
<line x1="538.05" y1="371" x2="547.95" y2="371" stroke="#2a2a2a" stroke-width="1.0"/>
<line x1="543.0" y1="464" x2="543.0" y2="469" stroke="#2a2a2a" stroke-width="1.2"/>
<line x1="565.0" y1="439.6" x2="565.0" y2="429.4" stroke="#2a2a2a" stroke-width="1.0"/>
<line x1="560.05" y1="429.4" x2="569.95" y2="429.4" stroke="#2a2a2a" stroke-width="1.0"/>
<line x1="565.0" y1="464" x2="565.0" y2="469" stroke="#2a2a2a" stroke-width="1.2"/>
<line x1="503" y1="347.4" x2="503" y2="464.6" stroke="#2a2a2a" stroke-width="1.2"/>
<line x1="502.4" y1="464" x2="583.6" y2="464" stroke="#2a2a2a" stroke-width="1.2"/>
<rect x="512.05" y="456.45" width="17.50" height="7.55" fill="#050505" stroke="#2b2b2b" stroke-width="0.9"/>
<rect x="534.45" y="386.45" width="17.10" height="77.55" fill="#ababab" stroke="#2b2b2b" stroke-width="0.9"/>
<rect x="556.45" y="440.05" width="17.10" height="23.95" fill="#8a8a8a" stroke="#2b2b2b" stroke-width="0.9"/>
<line x1="498" y1="464" x2="503" y2="464" stroke="#2a2a2a" stroke-width="1.2"/>
<text x="497.7" y="467.3" font-size="9.5" text-anchor="end" fill="#161616" stroke="#161616" stroke-width="0.3">0</text>
<line x1="498" y1="425.3" x2="503" y2="425.3" stroke="#2a2a2a" stroke-width="1.2"/>
<text x="497.7" y="428.6" font-size="9.5" text-anchor="end" fill="#161616" stroke="#161616" stroke-width="0.3">5</text>
<line x1="498" y1="386.7" x2="503" y2="386.7" stroke="#2a2a2a" stroke-width="1.2"/>
<text x="497.7" y="390.0" font-size="9.5" text-anchor="end" fill="#161616" stroke="#161616" stroke-width="0.3">10</text>
<line x1="498" y1="348" x2="503" y2="348" stroke="#2a2a2a" stroke-width="1.2"/>
<text x="497.7" y="351.3" font-size="9.5" text-anchor="end" fill="#161616" stroke="#161616" stroke-width="0.3">15</text>
<polygon points="541.60,365.51 542.10,366.86 543.54,366.92 542.41,367.81 542.80,369.20 541.60,368.40 540.40,369.20 540.79,367.81 539.66,366.92 541.10,366.86" fill="#1e1e1e" stroke="#1e1e1e" stroke-width="0.35" stroke-linejoin="round"/>
<polygon points="546.40,365.51 546.90,366.86 548.34,366.92 547.21,367.81 547.60,369.20 546.40,368.40 545.20,369.20 545.59,367.81 544.46,366.92 545.90,366.86" fill="#1e1e1e" stroke="#1e1e1e" stroke-width="0.35" stroke-linejoin="round"/>
<polygon points="554.00,350.51 554.50,351.86 555.94,351.92 554.81,352.81 555.20,354.20 554.00,353.40 552.80,354.20 553.19,352.81 552.06,351.92 553.50,351.86" fill="#1e1e1e" stroke="#1e1e1e" stroke-width="0.35" stroke-linejoin="round"/>
<line x1="543" y1="361.4" x2="563" y2="361.4" stroke="#2a2a2a" stroke-width="1.0"/>
<text x="481.4" y="468" font-size="9" transform="rotate(-90 481.4 468)" textLength="126.4" lengthAdjust="spacingAndGlyphs" fill="#161616" stroke="#161616" stroke-width="0.3">Relative expression of wnt10b</text>
<text x="521.7" y="475.1" font-size="11.5" text-anchor="end" transform="rotate(-45 521.7 475.1)" fill="#161616" stroke="#161616" stroke-width="0.3">PBS</text>
<text x="543.2" y="478.7" font-size="11.5" text-anchor="end" transform="rotate(-45 543.2 478.7)" fill="#161616" stroke="#161616" stroke-width="0.3">Exos</text>
<text x="576.7" y="474.7" font-size="11.5" text-anchor="end" transform="rotate(-45 576.7 474.7)" fill="#161616" stroke="#161616" stroke-width="0.3">MNX</text>
<line x1="661.0" y1="448" x2="661.0" y2="445.6" stroke="#2a2a2a" stroke-width="1.0"/>
<line x1="657.048" y1="445.6" x2="664.952" y2="445.6" stroke="#2a2a2a" stroke-width="1.0"/>
<line x1="661.0" y1="464" x2="661.0" y2="468.4" stroke="#2a2a2a" stroke-width="1.1"/>
<line x1="680.2" y1="386" x2="680.2" y2="378.4" stroke="#2a2a2a" stroke-width="1.0"/>
<line x1="676.144" y1="378.4" x2="684.2560000000001" y2="378.4" stroke="#2a2a2a" stroke-width="1.0"/>
<line x1="680.2" y1="464" x2="680.2" y2="468.4" stroke="#2a2a2a" stroke-width="1.1"/>
<line x1="698.8" y1="443" x2="698.8" y2="441.4" stroke="#2a2a2a" stroke-width="1.0"/>
<line x1="694.7439999999999" y1="441.4" x2="702.856" y2="441.4" stroke="#2a2a2a" stroke-width="1.0"/>
<line x1="698.8" y1="464" x2="698.8" y2="468.4" stroke="#2a2a2a" stroke-width="1.1"/>
<line x1="645" y1="364.45" x2="645" y2="464.55" stroke="#9a9a9a" stroke-width="1.1"/>
<line x1="644.45" y1="464" x2="715" y2="464" stroke="#2a2a2a" stroke-width="1.1"/>
<rect x="653.85" y="448.45" width="14.30" height="15.55" fill="#050505" stroke="#2b2b2b" stroke-width="0.9"/>
<rect x="672.85" y="386.45" width="14.70" height="77.55" fill="#ababab" stroke="#2b2b2b" stroke-width="0.9"/>
<rect x="691.45" y="443.45" width="14.70" height="20.55" fill="#8a8a8a" stroke="#2b2b2b" stroke-width="0.9"/>
<line x1="641" y1="464" x2="645" y2="464" stroke="#2a2a2a" stroke-width="1.1"/>
<text x="640.2" y="468.2" font-size="11" text-anchor="end" fill="#161616" stroke="#161616" stroke-width="0.3">0</text>
<line x1="641" y1="431" x2="645" y2="431" stroke="#2a2a2a" stroke-width="1.1"/>
<text x="640.2" y="435.8" font-size="11" text-anchor="end" fill="#161616" stroke="#161616" stroke-width="0.3">2</text>
<line x1="641" y1="398" x2="645" y2="398" stroke="#2a2a2a" stroke-width="1.1"/>
<text x="640.2" y="401.9" font-size="11" text-anchor="end" fill="#161616" stroke="#161616" stroke-width="0.3">4</text>
<line x1="641" y1="365" x2="645" y2="365" stroke="#2a2a2a" stroke-width="1.1"/>
<text x="640.2" y="372.0" font-size="11" text-anchor="end" fill="#161616" stroke="#161616" stroke-width="0.3">6</text>
<polygon points="675.20,370.51 675.70,371.86 677.14,371.92 676.01,372.81 676.40,374.20 675.20,373.40 674.00,374.20 674.39,372.81 673.26,371.92 674.70,371.86" fill="#1e1e1e" stroke="#1e1e1e" stroke-width="0.35" stroke-linejoin="round"/>
<polygon points="680.00,370.51 680.50,371.86 681.94,371.92 680.81,372.81 681.20,374.20 680.00,373.40 678.80,374.20 679.19,372.81 678.06,371.92 679.50,371.86" fill="#1e1e1e" stroke="#1e1e1e" stroke-width="0.35" stroke-linejoin="round"/>
<polygon points="684.80,370.51 685.30,371.86 686.74,371.92 685.61,372.81 686.00,374.20 684.80,373.40 683.60,374.20 683.99,372.81 682.86,371.92 684.30,371.86" fill="#1e1e1e" stroke="#1e1e1e" stroke-width="0.35" stroke-linejoin="round"/>
<text x="626" y="465.6" font-size="9.2" transform="rotate(-90 626 465.6)" textLength="142.6" lengthAdjust="spacingAndGlyphs" fill="#161616" stroke="#161616" stroke-width="0.3">Relative  expression of β-catenin</text>
<text x="663.7" y="474.3" font-size="11.5" text-anchor="end" transform="rotate(-45 663.7 474.3)" fill="#161616" stroke="#161616" stroke-width="0.3">PBS</text>
<text x="680.2" y="476.1" font-size="11.5" text-anchor="end" transform="rotate(-45 680.2 476.1)" fill="#161616" stroke="#161616" stroke-width="0.3">Exos</text>
<text x="702.7" y="480.7" font-size="11.5" text-anchor="end" transform="rotate(-45 702.7 480.7)" fill="#161616" stroke="#161616" stroke-width="0.3">MNX</text>
<text x="60" y="559.5" font-size="11" textLength="22" lengthAdjust="spacingAndGlyphs" fill="#161616" stroke="#161616" stroke-width="0.3">PBS</text>
<text x="92" y="559.5" font-size="11" textLength="24.5" lengthAdjust="spacingAndGlyphs" fill="#161616" stroke="#161616" stroke-width="0.3">Exos</text>
<text x="126" y="559.5" font-size="11" textLength="25.2" lengthAdjust="spacingAndGlyphs" fill="#161616" stroke="#161616" stroke-width="0.3">MNX</text>
<clipPath id="ci1"><rect x="56.8" y="564.8" width="94.4" height="21.8"/></clipPath>
<linearGradient id="gi1" x1="0" y1="0" x2="0" y2="1"><stop offset="0" stop-color="#bdbdbd"/><stop offset="1" stop-color="#cacaca"/></linearGradient>
<rect x="56.80" y="564.80" width="94.40" height="21.80" fill="url(#gi1)"/>
<g clip-path="url(#ci1)">
<rect x="58.0" y="569.0" width="25.0" height="12.0" rx="6.0" fill="#000" opacity="0.08" filter="url(#bl25)"/>
<rect x="60.0" y="571.9" width="20.0" height="5.5" rx="2.8" fill="#000" opacity="0.2" filter="url(#bl20)"/>
<rect x="86.0" y="567.0" width="28.0" height="16.0" rx="8.0" fill="#000" opacity="0.16" filter="url(#bl30)"/>
<rect x="90.6" y="571.5" width="20.8" height="7.4" rx="3.7" fill="#000" opacity="0.85" filter="url(#bl14)"/>
<ellipse cx="95.0" cy="575.6" rx="3.6" ry="3.8" fill="#000" opacity="0.7" filter="url(#bl10)"/>
<ellipse cx="101.5" cy="574.2" rx="3.5" ry="3.4" fill="#000" opacity="0.7" filter="url(#bl10)"/>
<ellipse cx="108.0" cy="575.8" rx="3.2" ry="3.8" fill="#000" opacity="0.7" filter="url(#bl10)"/>
<rect x="116.0" y="564.5" width="34.0" height="22.0" rx="11.0" fill="#000" opacity="0.28" filter="url(#bl30)"/>
<rect x="120.6" y="569.0" width="24.0" height="13.6" rx="4.0" fill="#000" opacity="0.95" filter="url(#bl15)"/>
<rect x="122.5" y="570.3" width="21.0" height="11.0" rx="3.5" fill="#000" opacity="0.95" filter="url(#bl10)"/>
</g>
<rect x="56.80" y="564.80" width="94.40" height="21.80" fill="none" stroke="#2a2a2a" stroke-width="1.2"/>
<clipPath id="ci2"><rect x="56.8" y="592.8" width="94.4" height="19.6"/></clipPath>
<rect x="56.80" y="592.80" width="94.40" height="19.60" fill="#e2e2e2"/>
<g clip-path="url(#ci2)">
<rect x="54.0" y="594.0" width="32.0" height="18.0" rx="9.0" fill="#000" opacity="0.15" filter="url(#bl25)"/>
<rect x="87.0" y="594.0" width="32.0" height="18.0" rx="9.0" fill="#000" opacity="0.15" filter="url(#bl25)"/>
<rect x="119.0" y="594.0" width="33.0" height="18.0" rx="9.0" fill="#000" opacity="0.15" filter="url(#bl25)"/>
<rect x="55.0" y="596.3" width="28.4" height="13.4" rx="6.7" fill="#000" opacity="1" filter="url(#bl13)"/>
<rect x="90.0" y="596.5" width="26.0" height="13.0" rx="6.5" fill="#000" opacity="1" filter="url(#bl13)"/>
<rect x="121.6" y="595.9" width="27.4" height="13.0" rx="6.5" fill="#000" opacity="1" filter="url(#bl13)"/>
</g>
<rect x="56.80" y="592.80" width="94.40" height="19.60" fill="none" stroke="#2a2a2a" stroke-width="1.2"/>
<text x="9.3" y="577.3" font-size="11" textLength="46" lengthAdjust="spacingAndGlyphs" fill="#161616" stroke="#161616" stroke-width="0.3">β-catenin</text>
<text x="20" y="607.3" font-size="11" textLength="33.5" lengthAdjust="spacingAndGlyphs" fill="#161616" stroke="#161616" stroke-width="0.3">β-actin</text>
<text x="157.3" y="577.3" font-size="11" textLength="34.4" lengthAdjust="spacingAndGlyphs" fill="#161616" stroke="#161616" stroke-width="0.3">92KDa</text>
<text x="157.3" y="607.3" font-size="11" textLength="34.4" lengthAdjust="spacingAndGlyphs" fill="#161616" stroke="#161616" stroke-width="0.3">42KDa</text>
<line x1="73.80000000000001" y1="721.5" x2="73.80000000000001" y2="715.7" stroke="#2a2a2a" stroke-width="1.0"/>
<line x1="67.248" y1="715.7" x2="80.35200000000002" y2="715.7" stroke="#2a2a2a" stroke-width="1.0"/>
<line x1="73.80000000000001" y1="792.3" x2="73.80000000000001" y2="797.8" stroke="#2a2a2a" stroke-width="1.2"/>
<line x1="104.5" y1="678.7" x2="104.5" y2="672" stroke="#2a2a2a" stroke-width="1.0"/>
<line x1="97.94800000000001" y1="672" x2="111.05199999999999" y2="672" stroke="#2a2a2a" stroke-width="1.0"/>
<line x1="104.5" y1="792.3" x2="104.5" y2="797.8" stroke="#2a2a2a" stroke-width="1.2"/>
<line x1="135.0" y1="670.3" x2="135.0" y2="667.7" stroke="#2a2a2a" stroke-width="1.0"/>
<line x1="128.448" y1="667.7" x2="141.552" y2="667.7" stroke="#2a2a2a" stroke-width="1.0"/>
<line x1="135.0" y1="792.3" x2="135.0" y2="797.8" stroke="#2a2a2a" stroke-width="1.2"/>
<line x1="49.2" y1="651.0" x2="49.2" y2="792.9" stroke="#2a2a2a" stroke-width="1.2"/>
<line x1="48.6" y1="792.3" x2="160.8" y2="792.3" stroke="#2a2a2a" stroke-width="1.2"/>
<rect x="61.65" y="721.95" width="24.30" height="70.35" fill="#050505" stroke="#2b2b2b" stroke-width="0.9"/>
<rect x="92.35" y="679.15" width="24.30" height="113.15" fill="#686868" stroke="#2b2b2b" stroke-width="0.9"/>
<rect x="122.85" y="670.75" width="24.30" height="121.55" fill="#a9a9a9" stroke="#2b2b2b" stroke-width="0.9"/>
<line x1="40.800000000000004" y1="792.3" x2="49.2" y2="792.3" stroke="#2a2a2a" stroke-width="1.2"/>
<text x="36.00000000000001" y="795.4" font-size="9" text-anchor="end" textLength="13.2" lengthAdjust="spacingAndGlyphs" fill="#161616" stroke="#161616" stroke-width="0.3">0.0</text>
<line x1="40.800000000000004" y1="757.1" x2="49.2" y2="757.1" stroke="#2a2a2a" stroke-width="1.2"/>
<text x="36.00000000000001" y="760.2" font-size="9" text-anchor="end" textLength="13.2" lengthAdjust="spacingAndGlyphs" fill="#161616" stroke="#161616" stroke-width="0.3">0.5</text>
<line x1="40.800000000000004" y1="721.9" x2="49.2" y2="721.9" stroke="#2a2a2a" stroke-width="1.2"/>
<text x="36.00000000000001" y="725.0" font-size="9" text-anchor="end" textLength="13.2" lengthAdjust="spacingAndGlyphs" fill="#161616" stroke="#161616" stroke-width="0.3">1.0</text>
<line x1="40.800000000000004" y1="686.8" x2="49.2" y2="686.8" stroke="#2a2a2a" stroke-width="1.2"/>
<text x="36.00000000000001" y="689.9" font-size="9" text-anchor="end" textLength="13.2" lengthAdjust="spacingAndGlyphs" fill="#161616" stroke="#161616" stroke-width="0.3">1.5</text>
<line x1="40.800000000000004" y1="651.6" x2="49.2" y2="651.6" stroke="#2a2a2a" stroke-width="1.2"/>
<text x="36.00000000000001" y="654.7" font-size="9" text-anchor="end" textLength="13.2" lengthAdjust="spacingAndGlyphs" fill="#161616" stroke="#161616" stroke-width="0.3">2.0</text>
<polygon points="98.60,664.30 99.06,665.52 100.36,665.58 99.34,666.39 99.69,667.65 98.60,666.93 97.51,667.65 97.86,666.39 96.84,665.58 98.14,665.52" fill="#1e1e1e" stroke="#1e1e1e" stroke-width="0.35" stroke-linejoin="round"/>
<polygon points="103.80,664.30 104.26,665.52 105.56,665.58 104.54,666.39 104.89,667.65 103.80,666.93 102.71,667.65 103.06,666.39 102.04,665.58 103.34,665.52" fill="#1e1e1e" stroke="#1e1e1e" stroke-width="0.35" stroke-linejoin="round"/>
<polygon points="109.00,664.30 109.46,665.52 110.76,665.58 109.74,666.39 110.09,667.65 109.00,666.93 107.91,667.65 108.26,666.39 107.24,665.58 108.54,665.52" fill="#1e1e1e" stroke="#1e1e1e" stroke-width="0.35" stroke-linejoin="round"/>
<polygon points="126.90,659.50 127.36,660.72 128.66,660.78 127.64,661.59 127.99,662.85 126.90,662.13 125.81,662.85 126.16,661.59 125.14,660.78 126.44,660.72" fill="#1e1e1e" stroke="#1e1e1e" stroke-width="0.35" stroke-linejoin="round"/>
<polygon points="132.10,659.50 132.56,660.72 133.86,660.78 132.84,661.59 133.19,662.85 132.10,662.13 131.01,662.85 131.36,661.59 130.34,660.78 131.64,660.72" fill="#1e1e1e" stroke="#1e1e1e" stroke-width="0.35" stroke-linejoin="round"/>
<polygon points="137.30,659.50 137.76,660.72 139.06,660.78 138.04,661.59 138.39,662.85 137.30,662.13 136.21,662.85 136.56,661.59 135.54,660.78 136.84,660.72" fill="#1e1e1e" stroke="#1e1e1e" stroke-width="0.35" stroke-linejoin="round"/>
<text x="118.8" y="648" font-size="9.5" text-anchor="middle" textLength="12" lengthAdjust="spacingAndGlyphs" fill="#161616" stroke="#161616" stroke-width="0.3">ns</text>
<line x1="102" y1="654.5" x2="135.6" y2="654.5" stroke="#2a2a2a" stroke-width="1.0"/>
<text x="16.3" y="785" font-size="7.7" transform="rotate(-90 16.3 785)" textLength="77.7" lengthAdjust="spacingAndGlyphs" fill="#2a2a2a" stroke="#2a2a2a" stroke-width="0.12">Relative  expression of</text>
<text x="16.3" y="694.3" font-size="7.7" transform="rotate(-90 16.3 694.3)" textLength="32" lengthAdjust="spacingAndGlyphs" fill="#2a2a2a" stroke="#2a2a2a" stroke-width="0.12">β-catenin</text>
<text x="61.2" y="809.3" font-size="9" textLength="21.6" lengthAdjust="spacingAndGlyphs" fill="#161616" stroke="#161616" stroke-width="0.3">PBS</text>
<text x="90" y="809.3" font-size="9" textLength="24.7" lengthAdjust="spacingAndGlyphs" fill="#161616" stroke="#161616" stroke-width="0.3">Exos</text>
<text x="122.4" y="809.3" font-size="9" textLength="24" lengthAdjust="spacingAndGlyphs" fill="#161616" stroke="#161616" stroke-width="0.3">MNX</text>
<text x="265" y="564.5" font-size="11" textLength="22.4" lengthAdjust="spacingAndGlyphs" fill="#161616" stroke="#161616" stroke-width="0.3">PBS</text>
<text x="299" y="564.5" font-size="11" textLength="24.2" lengthAdjust="spacingAndGlyphs" fill="#161616" stroke="#161616" stroke-width="0.3">Exos</text>
<text x="334.3" y="564.5" font-size="11" textLength="24.7" lengthAdjust="spacingAndGlyphs" fill="#161616" stroke="#161616" stroke-width="0.3">MNX</text>
<clipPath id="cj1"><rect x="261.8" y="568.6" width="104.6" height="16"/></clipPath>
<linearGradient id="gj1" x1="0" y1="0" x2="0" y2="1"><stop offset="0" stop-color="#d2d2d2"/><stop offset="1" stop-color="#dcdcdc"/></linearGradient>
<rect x="261.80" y="568.60" width="104.60" height="16.00" fill="url(#gj1)"/>
<g clip-path="url(#cj1)">
<rect x="262.0" y="567.0" width="32.0" height="18.0" rx="9.0" fill="#000" opacity="0.12" filter="url(#bl25)"/>
<rect x="265.0" y="569.5" width="26.0" height="12.0" rx="6.0" fill="#000" opacity="0.35" filter="url(#bl20)"/>
<rect x="267.4" y="569.6" width="21.6" height="9.2" rx="4.6" fill="#000" opacity="1" filter="url(#bl13)"/>
<rect x="268.5" y="570.0" width="19.5" height="7.5" rx="3.8" fill="#000" opacity="1" filter="url(#bl8)"/>
<rect x="296.0" y="570.0" width="30.0" height="14.0" rx="7.0" fill="#000" opacity="0.09" filter="url(#bl25)"/>
<rect x="333.0" y="570.0" width="31.0" height="14.0" rx="7.0" fill="#000" opacity="0.13" filter="url(#bl25)"/>
</g>
<rect x="261.80" y="568.60" width="104.60" height="16.00" fill="none" stroke="#2a2a2a" stroke-width="1.2"/>
<clipPath id="cj2"><rect x="261.8" y="594.2" width="104.6" height="17.4"/></clipPath>
<rect x="261.80" y="594.20" width="104.60" height="17.40" fill="#e6e6e6"/>
<g clip-path="url(#cj2)">
<rect x="260.0" y="596.6" width="32.0" height="12.0" rx="6.0" fill="#000" opacity="0.13" filter="url(#bl25)"/>
<rect x="295.0" y="596.8" width="33.0" height="12.0" rx="6.0" fill="#000" opacity="0.12" filter="url(#bl25)"/>
<rect x="331.0" y="596.6" width="34.0" height="12.0" rx="6.0" fill="#000" opacity="0.13" filter="url(#bl25)"/>
<rect x="260.0" y="599.5" width="29.0" height="6.2" rx="3.1" fill="#000" opacity="1" filter="url(#bl12)"/>
<rect x="297.6" y="600.0" width="27.8" height="5.8" rx="2.9" fill="#000" opacity="1" filter="url(#bl12)"/>
<rect x="332.8" y="599.3" width="29.2" height="6.4" rx="3.2" fill="#000" opacity="1" filter="url(#bl12)"/>
</g>
<rect x="261.80" y="594.20" width="104.60" height="17.40" fill="none" stroke="#2a2a2a" stroke-width="1.2"/>
<text x="221.1" y="580.6" font-size="11" textLength="34.6" lengthAdjust="spacingAndGlyphs" fill="#161616" stroke="#161616" stroke-width="0.3">SFRP1</text>
<text x="218.5" y="607.3" font-size="11" textLength="33.7" lengthAdjust="spacingAndGlyphs" fill="#161616" stroke="#161616" stroke-width="0.3">β-actin</text>
<text x="372.5" y="580.6" font-size="11" textLength="36.4" lengthAdjust="spacingAndGlyphs" fill="#161616" stroke="#161616" stroke-width="0.3">37 KDa</text>
<text x="372.5" y="607.9" font-size="11" textLength="32.5" lengthAdjust="spacingAndGlyphs" fill="#161616" stroke="#161616" stroke-width="0.3">42KDa</text>
<line x1="288.04999999999995" y1="697.9" x2="288.04999999999995" y2="690.7" stroke="#2a2a2a" stroke-width="1.0"/>
<line x1="282.47499999999997" y1="690.7" x2="293.62499999999994" y2="690.7" stroke="#2a2a2a" stroke-width="1.0"/>
<line x1="288.04999999999995" y1="792.3" x2="288.04999999999995" y2="797.8" stroke="#2a2a2a" stroke-width="1.2"/>
<line x1="315.15" y1="737.8" x2="315.15" y2="733" stroke="#2a2a2a" stroke-width="1.0"/>
<line x1="309.575" y1="733" x2="320.72499999999997" y2="733" stroke="#2a2a2a" stroke-width="1.0"/>
<line x1="315.15" y1="792.3" x2="315.15" y2="797.8" stroke="#2a2a2a" stroke-width="1.2"/>
<line x1="342.4" y1="728.2" x2="342.4" y2="721" stroke="#2a2a2a" stroke-width="1.0"/>
<line x1="336.75" y1="721" x2="348.04999999999995" y2="721" stroke="#2a2a2a" stroke-width="1.0"/>
<line x1="342.4" y1="792.3" x2="342.4" y2="797.8" stroke="#2a2a2a" stroke-width="1.2"/>
<line x1="265.1" y1="651.5" x2="265.1" y2="792.9" stroke="#2a2a2a" stroke-width="1.2"/>
<line x1="264.5" y1="792.3" x2="366.4" y2="792.3" stroke="#2a2a2a" stroke-width="1.2"/>
<rect x="277.35" y="698.35" width="21.40" height="93.95" fill="#050505" stroke="#2b2b2b" stroke-width="0.9"/>
<rect x="304.45" y="738.25" width="21.40" height="54.05" fill="#686868" stroke="#2b2b2b" stroke-width="0.9"/>
<rect x="331.55" y="728.65" width="21.70" height="63.65" fill="#a9a9a9" stroke="#2b2b2b" stroke-width="0.9"/>
<line x1="258.40000000000003" y1="792.3" x2="265.1" y2="792.3" stroke="#2a2a2a" stroke-width="1.2"/>
<text x="255.50000000000003" y="795.4" font-size="9" text-anchor="end" textLength="12.7" lengthAdjust="spacingAndGlyphs" fill="#161616" stroke="#161616" stroke-width="0.3">0.0</text>
<line x1="258.40000000000003" y1="745.6" x2="265.1" y2="745.6" stroke="#2a2a2a" stroke-width="1.2"/>
<text x="255.50000000000003" y="748.7" font-size="9" text-anchor="end" textLength="12.7" lengthAdjust="spacingAndGlyphs" fill="#161616" stroke="#161616" stroke-width="0.3">0.5</text>
<line x1="258.40000000000003" y1="698.8" x2="265.1" y2="698.8" stroke="#2a2a2a" stroke-width="1.2"/>
<text x="255.50000000000003" y="701.9" font-size="9" text-anchor="end" textLength="12.7" lengthAdjust="spacingAndGlyphs" fill="#161616" stroke="#161616" stroke-width="0.3">1.0</text>
<line x1="258.40000000000003" y1="652.1" x2="265.1" y2="652.1" stroke="#2a2a2a" stroke-width="1.2"/>
<text x="255.50000000000003" y="655.2" font-size="9" text-anchor="end" textLength="12.7" lengthAdjust="spacingAndGlyphs" fill="#161616" stroke="#161616" stroke-width="0.3">1.5</text>
<polygon points="310.00,727.29 310.43,728.45 311.67,728.51 310.70,729.28 311.03,730.47 310.00,729.79 308.97,730.47 309.30,729.28 308.33,728.51 309.57,728.45" fill="#1e1e1e" stroke="#1e1e1e" stroke-width="0.35" stroke-linejoin="round"/>
<polygon points="314.80,727.29 315.23,728.45 316.47,728.51 315.50,729.28 315.83,730.47 314.80,729.79 313.77,730.47 314.10,729.28 313.13,728.51 314.37,728.45" fill="#1e1e1e" stroke="#1e1e1e" stroke-width="0.35" stroke-linejoin="round"/>
<polygon points="319.60,727.29 320.03,728.45 321.27,728.51 320.30,729.28 320.63,730.47 319.60,729.79 318.57,730.47 318.90,729.28 317.93,728.51 319.17,728.45" fill="#1e1e1e" stroke="#1e1e1e" stroke-width="0.35" stroke-linejoin="round"/>
<polygon points="340.00,715.19 340.43,716.35 341.67,716.41 340.70,717.18 341.03,718.37 340.00,717.69 338.97,718.37 339.30,717.18 338.33,716.41 339.57,716.35" fill="#1e1e1e" stroke="#1e1e1e" stroke-width="0.35" stroke-linejoin="round"/>
<polygon points="344.80,715.19 345.23,716.35 346.47,716.41 345.50,717.18 345.83,718.37 344.80,717.69 343.77,718.37 344.10,717.18 343.13,716.41 344.37,716.35" fill="#1e1e1e" stroke="#1e1e1e" stroke-width="0.35" stroke-linejoin="round"/>
<text x="235.6" y="774.5" font-size="7.2" transform="rotate(-90 235.6 774.5)" textLength="96.5" lengthAdjust="spacingAndGlyphs" fill="#333" stroke="#333" stroke-width="0.08">Relative  expression of SFRP1</text>
<text x="280" y="811" font-size="10" textLength="22.8" lengthAdjust="spacingAndGlyphs" fill="#161616" stroke="#161616" stroke-width="0.3">PBS</text>
<text x="306.4" y="811" font-size="10" textLength="25.2" lengthAdjust="spacingAndGlyphs" fill="#161616" stroke="#161616" stroke-width="0.3">Exos</text>
<text x="336.4" y="811" font-size="10" textLength="24.7" lengthAdjust="spacingAndGlyphs" fill="#161616" stroke="#161616" stroke-width="0.3">MNX</text>
<text x="491.5" y="564" font-size="11" textLength="21.8" lengthAdjust="spacingAndGlyphs" fill="#161616" stroke="#161616" stroke-width="0.3">PBS</text>
<text x="525.3" y="564" font-size="11" textLength="24" lengthAdjust="spacingAndGlyphs" fill="#161616" stroke="#161616" stroke-width="0.3">Exos</text>
<text x="560" y="564" font-size="11" textLength="24.8" lengthAdjust="spacingAndGlyphs" fill="#161616" stroke="#161616" stroke-width="0.3">MNX</text>
<clipPath id="ck1"><rect x="483.5" y="569.5" width="95.6" height="16.6"/></clipPath>
<rect x="483.50" y="569.50" width="95.60" height="16.60" fill="#f0f0f0"/>
<g clip-path="url(#ck1)">
<rect x="484.8" y="574.8" width="21.9" height="3.4" rx="1.7" fill="#000" opacity="0.62" filter="url(#bl11)"/>
<rect x="517.3" y="574.9" width="22.7" height="3.8" rx="1.9" fill="#000" opacity="0.9" filter="url(#bl10)"/>
<rect x="548.8" y="573.8" width="23.7" height="5.4" rx="2.7" fill="#000" opacity="1" filter="url(#bl10)"/>
</g>
<rect x="483.50" y="569.50" width="95.60" height="16.60" fill="none" stroke="#2a2a2a" stroke-width="1.2"/>
<clipPath id="ck2"><rect x="483.5" y="593.1" width="95.6" height="14.4"/></clipPath>
<rect x="483.50" y="593.10" width="95.60" height="14.40" fill="#f2f2f2"/>
<g clip-path="url(#ck2)">
<rect x="485.3" y="600.9" width="25.4" height="5.6" rx="2.8" fill="#000" opacity="1" filter="url(#bl10)"/>
<rect x="518.7" y="601.0" width="24.0" height="5.4" rx="2.7" fill="#000" opacity="1" filter="url(#bl10)"/>
<rect x="549.9" y="600.5" width="26.1" height="5.8" rx="2.9" fill="#000" opacity="1" filter="url(#bl10)"/>
</g>
<rect x="483.50" y="593.10" width="95.60" height="14.40" fill="none" stroke="#2a2a2a" stroke-width="1.2"/>
<text x="458.7" y="580" font-size="11" textLength="16" lengthAdjust="spacingAndGlyphs" fill="#161616" stroke="#161616" stroke-width="0.3">lef1</text>
<text x="447.2" y="604" font-size="11" textLength="32.8" lengthAdjust="spacingAndGlyphs" fill="#161616" stroke="#161616" stroke-width="0.3">β-actin</text>
<text x="586.1" y="580.5" font-size="11" textLength="33.9" lengthAdjust="spacingAndGlyphs" fill="#161616" stroke="#161616" stroke-width="0.3">55KDa</text>
<text x="586.1" y="603.1" font-size="11" textLength="33.9" lengthAdjust="spacingAndGlyphs" fill="#161616" stroke="#161616" stroke-width="0.3">42KDa</text>
<line x1="529.6500000000001" y1="723.5" x2="529.6500000000001" y2="719.3" stroke="#2a2a2a" stroke-width="1.0"/>
<line x1="523.1750000000001" y1="719.3" x2="536.1250000000001" y2="719.3" stroke="#2a2a2a" stroke-width="1.0"/>
<line x1="529.6500000000001" y1="795.4" x2="529.6500000000001" y2="800.4" stroke="#2a2a2a" stroke-width="1.2"/>
<line x1="561.55" y1="704.4" x2="561.55" y2="689.5" stroke="#2a2a2a" stroke-width="1.0"/>
<line x1="555.0749999999999" y1="689.5" x2="568.025" y2="689.5" stroke="#2a2a2a" stroke-width="1.0"/>
<line x1="561.55" y1="795.4" x2="561.55" y2="800.4" stroke="#2a2a2a" stroke-width="1.2"/>
<line x1="593.0" y1="675.1" x2="593.0" y2="660.7" stroke="#2a2a2a" stroke-width="1.0"/>
<line x1="586.4" y1="660.7" x2="599.6" y2="660.7" stroke="#2a2a2a" stroke-width="1.0"/>
<line x1="593.0" y1="795.4" x2="593.0" y2="800.4" stroke="#2a2a2a" stroke-width="1.2"/>
<line x1="503.7" y1="651.0" x2="503.7" y2="796.0" stroke="#2a2a2a" stroke-width="1.2"/>
<line x1="503.09999999999997" y1="795.4" x2="620.6" y2="795.4" stroke="#2a2a2a" stroke-width="1.2"/>
<rect x="517.15" y="723.95" width="25.00" height="71.45" fill="#050505" stroke="#2b2b2b" stroke-width="0.9"/>
<rect x="549.05" y="704.85" width="25.00" height="90.55" fill="#686868" stroke="#2b2b2b" stroke-width="0.9"/>
<rect x="580.25" y="675.55" width="25.50" height="119.85" fill="#a9a9a9" stroke="#2b2b2b" stroke-width="0.9"/>
<line x1="496.3" y1="795.4" x2="503.7" y2="795.4" stroke="#2a2a2a" stroke-width="1.2"/>
<text x="495.8" y="798.0" font-size="7.6" text-anchor="end" textLength="13.2" lengthAdjust="spacingAndGlyphs" fill="#161616" stroke="#161616" stroke-width="0.3">0.0</text>
<line x1="496.3" y1="759.5" x2="503.7" y2="759.5" stroke="#2a2a2a" stroke-width="1.2"/>
<text x="495.8" y="762.1" font-size="7.6" text-anchor="end" textLength="13.2" lengthAdjust="spacingAndGlyphs" fill="#161616" stroke="#161616" stroke-width="0.3">0.5</text>
<line x1="496.3" y1="723.5" x2="503.7" y2="723.5" stroke="#2a2a2a" stroke-width="1.2"/>
<text x="495.8" y="726.1" font-size="7.6" text-anchor="end" textLength="13.2" lengthAdjust="spacingAndGlyphs" fill="#161616" stroke="#161616" stroke-width="0.3">1.0</text>
<line x1="496.3" y1="687.5" x2="503.7" y2="687.5" stroke="#2a2a2a" stroke-width="1.2"/>
<text x="495.8" y="690.1" font-size="7.6" text-anchor="end" textLength="13.2" lengthAdjust="spacingAndGlyphs" fill="#161616" stroke="#161616" stroke-width="0.3">1.5</text>
<line x1="496.3" y1="651.6" x2="503.7" y2="651.6" stroke="#2a2a2a" stroke-width="1.2"/>
<text x="495.8" y="654.2" font-size="7.6" text-anchor="end" textLength="13.2" lengthAdjust="spacingAndGlyphs" fill="#161616" stroke="#161616" stroke-width="0.3">2.0</text>
<text x="561.4" y="683.3" font-size="10" text-anchor="middle" textLength="13.7" lengthAdjust="spacingAndGlyphs" fill="#161616" stroke="#161616" stroke-width="0.35">ns</text>
<polygon points="590.25,654.23 590.68,655.10 591.92,655.14 590.95,655.72 591.28,656.62 590.25,656.10 589.22,656.62 589.55,655.72 588.58,655.14 589.82,655.10" fill="#1e1e1e" stroke="#1e1e1e" stroke-width="0.35" stroke-linejoin="round"/>
<polygon points="594.95,654.23 595.38,655.10 596.62,655.14 595.65,655.72 595.98,656.62 594.95,656.10 593.92,656.62 594.25,655.72 593.28,655.14 594.52,655.10" fill="#1e1e1e" stroke="#1e1e1e" stroke-width="0.35" stroke-linejoin="round"/>
<text x="474.2" y="776.2" font-size="7.2" transform="rotate(-90 474.2 776.2)" textLength="91.5" lengthAdjust="spacingAndGlyphs" fill="#333" stroke="#333" stroke-width="0.08">Relative  expression of Lef 1</text>
<text x="522.2" y="812.2" font-size="8.4" textLength="19.7" lengthAdjust="spacingAndGlyphs" fill="#161616" stroke="#161616" stroke-width="0.3">PBS</text>
<text x="552.2" y="812.2" font-size="8.4" textLength="25.7" lengthAdjust="spacingAndGlyphs" fill="#161616" stroke="#161616" stroke-width="0.3">EXos</text>
<text x="584.6" y="812.2" font-size="8.4" textLength="24" lengthAdjust="spacingAndGlyphs" fill="#161616" stroke="#161616" stroke-width="0.3">MNX</text>
</g>
</svg>
</body></html>
